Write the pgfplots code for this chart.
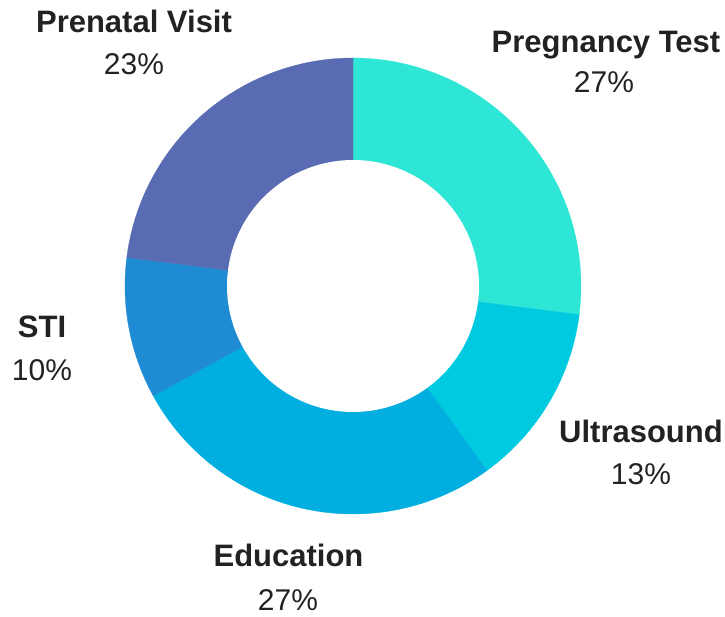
\documentclass[border=0pt]{standalone}
\usepackage{pgfplots}
\pgfplotsset{compat=1.18}
\usepackage{pgfplotstable}
\usepackage{fontspec}
\setmainfont{Liberation Sans}
\definecolor{cPreg}{HTML}{2EE6D6}
\definecolor{cUltra}{HTML}{00CAE0}
\definecolor{cEdu}{HTML}{00AEE0}
\definecolor{cSTI}{HTML}{1E8BD3}
\definecolor{cPren}{HTML}{596BB2}
\definecolor{txt}{HTML}{222222}
\tikzset{
  name labels/.style={font=\fontsize{31}{37}\selectfont\bfseries, text=txt, anchor=base, inner sep=0pt},
  pct labels/.style={font=\fontsize{30}{36}\selectfont, text=txt, anchor=base, inner sep=0pt},
}

\pgfplotstableread{
label value
Pregnancy 27
Ultrasound 13
Education 27
STI 10
Prenatal 23
}\slices

\begin{document}
\begin{tikzpicture}
\useasboundingbox (0,0) rectangle (725pt,616pt);
\pgfplotstablegetelem{0}{value}\of\slices \let\vA\pgfplotsretval
\pgfplotstablegetelem{1}{value}\of\slices \let\vB\pgfplotsretval
\pgfplotstablegetelem{2}{value}\of\slices \let\vC\pgfplotsretval
\pgfplotstablegetelem{3}{value}\of\slices \let\vD\pgfplotsretval
\pgfplotstablegetelem{4}{value}\of\slices \let\vE\pgfplotsretval
\pgfmathsetmacro\aZ{90}
\pgfmathsetmacro\aA{\aZ-3.6*\vA}
\pgfmathsetmacro\aB{\aA-3.6*\vB}
\pgfmathsetmacro\aC{\aB-3.6*\vC}
\pgfmathsetmacro\aD{\aC-3.6*\vD}
\pgfmathsetmacro\aE{\aD-3.6*\vE}
\begin{axis}[
  hide axis, scale only axis,
  width=725pt, height=616pt,
  xmin=-353, xmax=372, ymin=-330, ymax=286,
  clip=false, at={(0,0)}, anchor=south west,
]
\addplot[fill=cPreg, draw=cPreg, line width=0.3pt, domain=\aA:\aZ, samples=100, variable=\t] ({228*cos(t)},{228*sin(t)}) -- (axis cs:0,0) -- cycle;
\addplot[fill=cUltra, draw=cUltra, line width=0.3pt, domain=\aB:\aA, samples=60, variable=\t] ({228*cos(t)},{228*sin(t)}) -- (axis cs:0,0) -- cycle;
\addplot[fill=cEdu, draw=cEdu, line width=0.3pt, domain=\aC:\aB, samples=100, variable=\t] ({228*cos(t)},{228*sin(t)}) -- (axis cs:0,0) -- cycle;
\addplot[fill=cSTI, draw=cSTI, line width=0.3pt, domain=\aD:\aC, samples=50, variable=\t] ({228*cos(t)},{228*sin(t)}) -- (axis cs:0,0) -- cycle;
\addplot[fill=cPren, draw=cPren, line width=0.3pt, domain=\aE:\aD, samples=90, variable=\t] ({228*cos(t)},{228*sin(t)}) -- (axis cs:0,0) -- cycle;
\addplot[fill=white, draw=none, domain=0:360, samples=181, variable=\t] ({126*cos(t)},{126*sin(t)}) -- cycle;

\node[name labels] at (axis cs:-219,253) {Prenatal Visit};
\node[pct labels] at (axis cs:-219,211) {23\%};
\node[name labels] at (axis cs:253,233) {Pregnancy Test};
\node[pct labels] at (axis cs:251,193.5) {27\%};
\node[name labels] at (axis cs:-311,-51.7) {STI};
\node[pct labels] at (axis cs:-311,-95) {10\%};
\node[name labels] at (axis cs:288,-156.7) {Ultrasound};
\node[pct labels] at (axis cs:288,-199) {13\%};
\node[name labels] at (axis cs:-64.5,-280.7) {Education};
\node[pct labels] at (axis cs:-65,-324) {27\%};
\end{axis}
\end{tikzpicture}
\end{document}
